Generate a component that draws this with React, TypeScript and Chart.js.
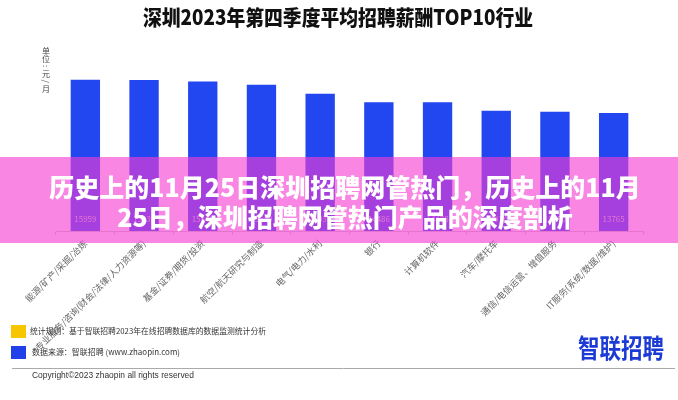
import React, { useEffect, useRef } from "react";
import { Chart, registerables } from "chart.js";

Chart.register(...registerables);

const titleText = "深圳2023年第四季度平均招聘薪酬TOP10行业";
const unitLabel = "单位：元/月";
const categories = [
  "能源/矿产/采掘/冶炼",
  "专业服务/咨询(财会/法律/人力资源等)",
  "基金/证券/期货/投资",
  "航空/航天研究与制造",
  "电气/电力/水利",
  "银行",
  "计算机软件",
  "汽车/摩托车",
  "通信/电信运营、增值服务",
  "IT服务(系统/数据/维护)",
];
const salaries = [15959, 15938, 15846, 15629, 15035, 14486, 14478, 13914, 13850, 13765];
const bannerLines = [
  "历史上的11月25日深圳招聘网管热门，历史上的11月",
  "25日，深圳招聘网管热门产品的深度剖析",
];
const noteRule = "统计规则：基于智联招聘2023年在线招聘数据库的数据监测统计分析";
const noteSource = "数据来源：智联招聘 (www.zhaopin.com)";
const copyrightText = "Copyright©2023 zhaopin all rights reserved";
const logoText = "智联招聘";

const CJK = '"Noto Sans CJK SC", "Noto Sans", sans-serif';

const decorPlugin = {
  id: "decor",
  afterDraw(chart: any) {
    const ctx = chart.ctx as CanvasRenderingContext2D;
    const area = chart.chartArea;
    ctx.save();

    // Title
    ctx.fillStyle = "#111";
    ctx.font = `900 21px ${CJK}`;
    ctx.textAlign = "center";
    ctx.textBaseline = "middle";
    ctx.fillText(titleText, 338, 17, 390);

    // Unit label (vertical)
    ctx.fillStyle = "#444";
    ctx.font = `8px ${CJK}`;
    const chars = Array.from(unitLabel);
    chars.forEach((c, i) => {
      const y = 51 + i * 7.6;
      if (c === "：" || c === "/") {
        ctx.save();
        ctx.translate(46, y);
        ctx.rotate(Math.PI / 2);
        ctx.fillText(c === "：" ? ":" : "/", 0, 0);
        ctx.restore();
      } else {
        ctx.fillText(c, 46, y);
      }
    });

    // Value labels
    const meta = chart.getDatasetMeta(0);
    ctx.fillStyle = "#c9cbe0";
    ctx.font = `8px ${CJK}`;
    meta.data.forEach((bar: any, i: number) => {
      ctx.fillText(String(salaries[i]), bar.x, area.bottom - 12);
    });

    // Banner overlay
    ctx.fillStyle = "rgba(245,59,210,0.62)";
    ctx.fillRect(0, 157, 678, 86);
    ctx.fillStyle = "#ffffff";
    ctx.font = `900 25px ${CJK}`;
    ctx.fillText(bannerLines[0], 345, 187, 600);
    ctx.fillText(bannerLines[1], 345, 217, 462);

    // Footer legend
    ctx.fillStyle = "#f7c600";
    ctx.fillRect(11, 325, 15, 13);
    ctx.fillStyle = "#2140e8";
    ctx.fillRect(11, 346, 15, 13);
    ctx.fillStyle = "#333";
    ctx.textAlign = "left";
    ctx.font = `8px ${CJK}`;
    ctx.fillText(noteRule, 30, 331, 236);
    ctx.fillText(noteSource, 32, 352, 148);

    ctx.strokeStyle = "#aaa";
    ctx.lineWidth = 1;
    ctx.beginPath();
    ctx.moveTo(12, 368.5);
    ctx.lineTo(675, 368.5);
    ctx.stroke();
    ctx.fillStyle = "#333";
    ctx.font = `9px "Liberation Sans", sans-serif`;
    ctx.fillText(copyrightText, 32, 376, 162);

    // Logo
    ctx.fillStyle = "#1c3bd4";
    ctx.font = `bold 26px ${CJK}`;
    ctx.textAlign = "right";
    ctx.fillText(logoText, 664, 348, 86);

    ctx.restore();
  },
};

export default function App() {
  const ref = useRef<HTMLCanvasElement | null>(null);
  useEffect(() => {
    if (!ref.current) return;
    const chart = new Chart(ref.current, {
      type: "bar",
      data: {
        labels: categories,
        datasets: [
          {
            data: salaries,
            backgroundColor: "#2246ef",
            barPercentage: 0.5,
            categoryPercentage: 1,
          },
        ],
      },
      options: {
        animation: false,
        responsive: false,
        maintainAspectRatio: false,
        layout: { padding: { left: 56, right: 35, top: 64, bottom: 0 } },
        plugins: {
          legend: { display: false },
          tooltip: { enabled: false },
          title: { display: false },
        },
        scales: {
          x: {
            grid: {
              display: true,
              drawOnChartArea: false,
              drawTicks: true,
              tickLength: 4,
              color: "#cccccc",
              offset: true,
            },
            border: { color: "#cccccc" },
            ticks: {
              autoSkip: false,
              maxRotation: 45,
              minRotation: 45,
              color: "#666",
              font: { size: 9, family: CJK },
              padding: 3,
            },
            afterFit: (s: any) => {
              s.height = 169;
            },
          },
          y: { display: false, min: 6000, max: 17000 },
        },
      },
      plugins: [decorPlugin],
    });
    return () => chart.destroy();
  }, []);
  return (
    <div style={{ position: "absolute", left: 0, top: 0, width: 678, height: 400, background: "#fff" }}>
      <canvas ref={ref} width={678} height={400} />
    </div>
  );
}
